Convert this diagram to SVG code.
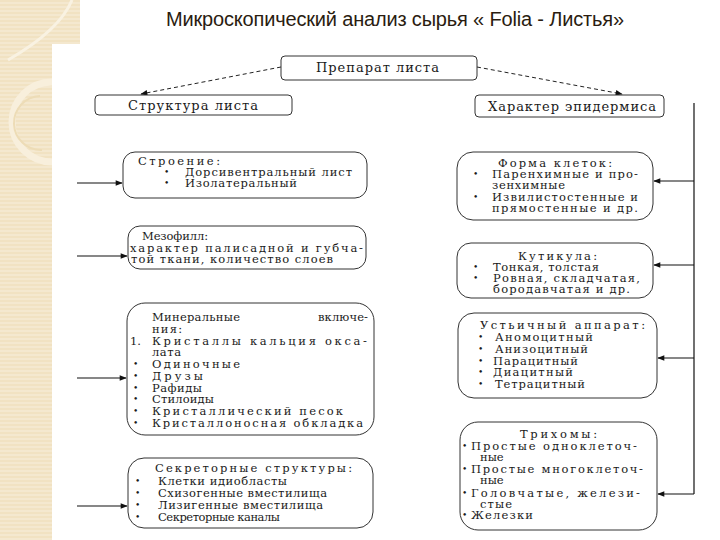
<svg xmlns="http://www.w3.org/2000/svg" width="720" height="540" viewBox="0 0 720 540">
<defs>
<style>
.t{font-family:"DejaVu Serif","Liberation Serif",serif;font-size:11.5px;fill:#1a1a1a}
.h{font-family:"DejaVu Serif","Liberation Serif",serif;font-size:13px;fill:#1a1a1a}
.b{font-family:"DejaVu Serif","Liberation Serif",serif;font-size:9px;fill:#1a1a1a}
.box{fill:#fff;stroke:#333;stroke-width:1}
.ln{stroke:#111;stroke-width:1.2;fill:none}
.dl{stroke:#222;stroke-width:1;stroke-dasharray:4 3;fill:none}
</style>
<marker id="ah" viewBox="0 0 10 10" refX="9" refY="5" markerWidth="9" markerHeight="7" orient="auto" markerUnits="userSpaceOnUse">
<path d="M0,1 L10,5 L0,9 z" fill="#111"/>
</marker>
<pattern id="stripes" width="6" height="4" patternUnits="userSpaceOnUse">
<rect width="6" height="4" fill="#f1e2c2"/>
<rect y="2.5" width="6" height="1" fill="#f8efdc"/>
</pattern>
</defs>
<rect width="720" height="540" fill="#fff"/>
<g id="background">
<rect x="0" y="0" width="52" height="540" fill="url(#stripes)"/>
<rect x="0" y="0" width="80" height="44" fill="url(#stripes)"/>
<path d="M72,0 Q60,30 8,60" stroke="#f9f2e2" stroke-width="3" fill="none"/>
<path d="M52,82 A38,38 0 0 0 52,162" stroke="#f8efdc" stroke-width="7" fill="none"/>
<path d="M40,96 A26,26 0 0 0 42,150" stroke="#eddcb6" stroke-width="2" fill="none"/>
</g>
<text x="166" y="26" font-family="Liberation Sans, Arial, sans-serif" font-size="20" fill="#2a1c10" textLength="458">Микроскопический анализ сырья « Folia - Листья»</text>
<g id="connectors">
<path class="dl" d="M281,67 L141,94" marker-end="url(#ah)"/>
<path class="dl" d="M477,67 L622,94" marker-end="url(#ah)"/>
<path class="ln" d="M77,183 L122,183" marker-end="url(#ah)"/>
<path class="ln" d="M77,256 L127,256" marker-end="url(#ah)"/>
<path class="ln" d="M77,378 L126,378" marker-end="url(#ah)"/>
<path class="ln" d="M77,506 L127,506" marker-end="url(#ah)"/>
<path class="ln" d="M694,103 L694,494"/>
<path class="ln" d="M694,181 L654,181" marker-end="url(#ah)"/>
<path class="ln" d="M694,265 L654,265" marker-end="url(#ah)"/>
<path class="ln" d="M694,358 L658,358" marker-end="url(#ah)"/>
<path class="ln" d="M694,494 L658,494" marker-end="url(#ah)"/>
</g>
<g id="n-preparat">
<rect class="box" x="281" y="56" width="196" height="24" rx="4"/>
<text class="h" x="316" y="72" textLength="123">Препарат листа</text>
</g>
<g id="n-struktura">
<rect class="box" x="95" y="95" width="197" height="20" rx="4"/>
<text class="h" x="128" y="110" textLength="130">Структура листа</text>
</g>
<g id="n-epidermis">
<rect class="box" x="475" y="95" width="189" height="22" rx="4"/>
<text class="h" x="488" y="111" textLength="168">Характер эпидермиса</text>
</g>
<g id="n-stroenie">
<rect class="box" x="123" y="152" width="244" height="46" rx="12"/>
<text class="t" x="138" y="165" textLength="82">Строение:</text>
<text class="b" x="164" y="175">•</text>
<text class="t" x="185" y="176" textLength="167">Дорсивентральный лист</text>
<text class="b" x="164" y="186">•</text>
<text class="t" x="185" y="187" textLength="112">Изолатеральный</text>
</g>
<g id="n-mezofill">
<rect class="box" x="128" y="226" width="238" height="43" rx="12"/>
<text class="t" x="142" y="240" textLength="66">Мезофилл:</text>
<text class="t" x="130" y="252" textLength="233">характер палисадной и губча-</text>
<text class="t" x="131" y="263" textLength="202">той ткани, количество слоев</text>
</g>
<g id="n-mineral">
<rect class="box" x="127" y="303" width="247" height="132" rx="18"/>
<text class="t" x="152" y="321" textLength="88">Минеральные</text>
<text class="t" x="318" y="321" textLength="50">включе-</text>
<text class="t" x="152" y="333" textLength="30">ния:</text>
<text class="t" x="130" y="345">1.</text>
<text class="t" x="152" y="345" textLength="215">Кристаллы кальция окса-</text>
<text class="t" x="152" y="356" textLength="29">лата</text>
<text class="b" x="133" y="367">•</text>
<text class="t" x="152" y="368" textLength="88">Одиночные</text>
<text class="b" x="133" y="379">•</text>
<text class="t" x="152" y="380" textLength="51">Друзы</text>
<text class="b" x="133" y="391">•</text>
<text class="t" x="152" y="392" textLength="50">Рафиды</text>
<text class="b" x="133" y="402">•</text>
<text class="t" x="152" y="403" textLength="62">Стилоиды</text>
<text class="b" x="133" y="414">•</text>
<text class="t" x="152" y="415" textLength="191">Кристаллический песок</text>
<text class="b" x="133" y="426">•</text>
<text class="t" x="152" y="427" textLength="211">Кристаллоносная обкладка</text>
</g>
<g id="n-sekret">
<rect class="box" x="128" y="458" width="245" height="70" rx="16"/>
<text class="t" x="155" y="472" textLength="197">Секреторные структуры:</text>
<text class="b" x="135" y="484">•</text>
<text class="t" x="158" y="485" textLength="129">Клетки идиобласты</text>
<text class="b" x="135" y="496">•</text>
<text class="t" x="158" y="497" textLength="169">Схизогенные вместилища</text>
<text class="b" x="135" y="508">•</text>
<text class="t" x="158" y="509" textLength="165">Лизигенные вместилища</text>
<text class="b" x="135" y="520">•</text>
<text class="t" x="158" y="521" textLength="122">Секреторные каналы</text>
</g>
<g id="n-forma">
<rect class="box" x="457" y="152" width="196" height="68" rx="16"/>
<text class="t" x="498" y="167" textLength="114">Форма клеток:</text>
<text class="b" x="473" y="177">•</text>
<text class="t" x="492" y="178" textLength="146">Паренхимные и про-</text>
<text class="t" x="492" y="189" textLength="73">зенхимные</text>
<text class="b" x="473" y="200">•</text>
<text class="t" x="492" y="201" textLength="146">Извилистостенные и</text>
<text class="t" x="492" y="212" textLength="146">прямостенные и др.</text>
</g>
<g id="n-kutikula">
<rect class="box" x="457" y="243" width="196" height="55" rx="14"/>
<text class="t" x="518" y="260" textLength="79">Кутикула:</text>
<text class="b" x="473" y="270">•</text>
<text class="t" x="493" y="271" textLength="106">Тонкая, толстая</text>
<text class="b" x="473" y="281">•</text>
<text class="t" x="493" y="282" textLength="147">Ровная, складчатая,</text>
<text class="t" x="493" y="293" textLength="137">бородавчатая и др.</text>
</g>
<g id="n-ustyca">
<rect class="box" x="458" y="313" width="199" height="85" rx="16"/>
<text class="t" x="480" y="329" textLength="165">Устьичный аппарат:</text>
<text class="b" x="478" y="340">•</text>
<text class="t" x="495" y="341" textLength="98">Аномоцитный</text>
<text class="b" x="478" y="352">•</text>
<text class="t" x="495" y="353" textLength="93">Анизоцитный</text>
<text class="b" x="478" y="364">•</text>
<text class="t" x="493" y="365" textLength="85">Парацитный</text>
<text class="b" x="478" y="375">•</text>
<text class="t" x="493" y="376" textLength="80">Диацитный</text>
<text class="b" x="478" y="387">•</text>
<text class="t" x="495" y="388" textLength="90">Тетрацитный</text>
</g>
<g id="n-trihomy">
<rect class="box" x="460" y="422" width="197" height="108" rx="18"/>
<text class="t" x="520" y="438" textLength="77">Трихомы:</text>
<text class="b" x="462" y="449">•</text>
<text class="t" x="471" y="450" textLength="166">Простые одноклеточ-</text>
<text class="t" x="480" y="461">ные</text>
<text class="b" x="462" y="472">•</text>
<text class="t" x="471" y="473" textLength="172">Простые многоклеточ-</text>
<text class="t" x="480" y="484">ные</text>
<text class="b" x="462" y="496">•</text>
<text class="t" x="471" y="497" textLength="169">Головчатые, желези-</text>
<text class="t" x="480" y="508" textLength="32">стые</text>
<text class="b" x="462" y="518">•</text>
<text class="t" x="471" y="519" textLength="62">Железки</text>
</g>
</svg>
